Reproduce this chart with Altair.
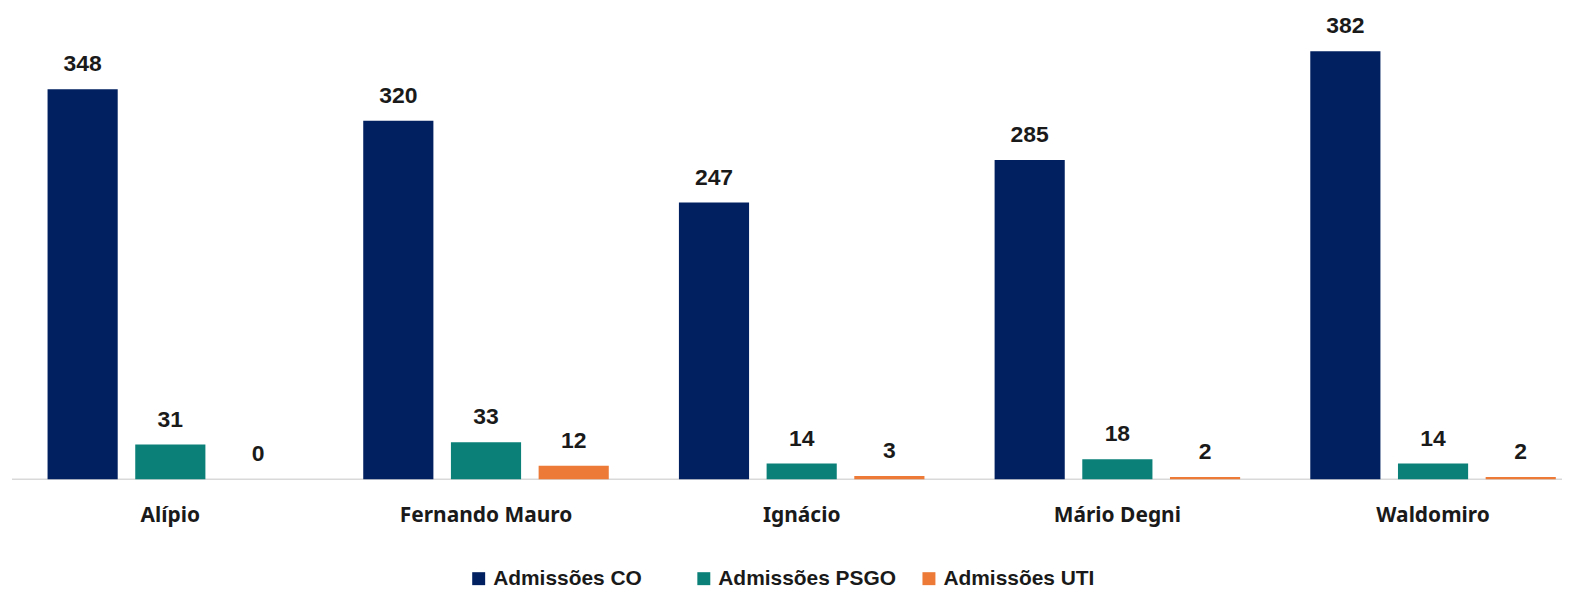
import altair as alt
import pandas as pd

groups = ["Alípio", "Fernando Mauro", "Ignácio", "Mário Degni", "Waldomiro"]
series = ["Admissões CO", "Admissões PSGO", "Admissões UTI"]
co = [348, 320, 247, 285, 382]
psgo = [31, 33, 14, 18, 14]
uti = [0, 12, 3, 2, 2]
colors = ["#002060", "#0B8079", "#ED7A37"]

rows = []
for i, g in enumerate(groups):
    for s, vals in zip(series, [co, psgo, uti]):
        rows.append({"grupo": g, "serie": s, "valor": vals[i]})
df = pd.DataFrame(rows)

W, H = 1554, 450

x_enc = alt.X("grupo:N", sort=groups, title=None,
              scale=alt.Scale(range=[0.5, 1585], paddingInner=0, paddingOuter=0),
              axis=alt.Axis(labelAngle=0, domain=False, ticks=False, labelFont="Noto Sans",
                            labelFontWeight="bold", labelFontSize=21, labelColor="#1a1a1a",
                            labelPadding=25, labelLimit=0))
xo_enc = alt.XOffset("serie:N", sort=series,
                     scale=alt.Scale(domain=series, paddingInner=0.2, paddingOuter=0.4))
y_enc = alt.Y("valor:Q", scale=alt.Scale(domain=[0, 400], nice=False), axis=None)

base = alt.Chart(df)

rule = alt.Chart(pd.DataFrame({"v": [0]})).mark_rule(color="#d9d9d9", strokeWidth=1.5).encode(
    x=alt.value(0), x2=alt.value(W + 2), y=alt.value(H)
)

bars = base.mark_bar().encode(
    x=x_enc, xOffset=xo_enc, y=y_enc,
    color=alt.Color("serie:N", sort=series,
                    scale=alt.Scale(domain=series, range=colors),
                    legend=alt.Legend(title=None, orient="none", direction="horizontal",
                                      legendX=458, legendY=539, gridAlign="all",
                                      symbolType="square", symbolSize=169, symbolStrokeWidth=0,
                                      labelFont="Liberation Sans", labelFontWeight="bold",
                                      labelFontSize=21, labelColor="#1a1a1a", labelLimit=0,
                                      columnPadding=22, labelOffset=4))
)

labels = base.mark_text(baseline="alphabetic", dy=-18, font="Liberation Sans",
                        fontWeight="bold", fontSize=23, color="#1a1a1a").encode(
    x=x_enc, xOffset=xo_enc, y=y_enc, text=alt.Text("valor:Q")
)

chart = alt.layer(rule, bars, labels).properties(
    width=W, height=H,
    autosize=alt.AutoSizeParams(type="none"),
    padding={"left": 4, "top": 22, "right": 2, "bottom": 110},
).configure_view(stroke=None)

chart.save("out.html", embed_options={"renderer": "svg", "actions": False})
